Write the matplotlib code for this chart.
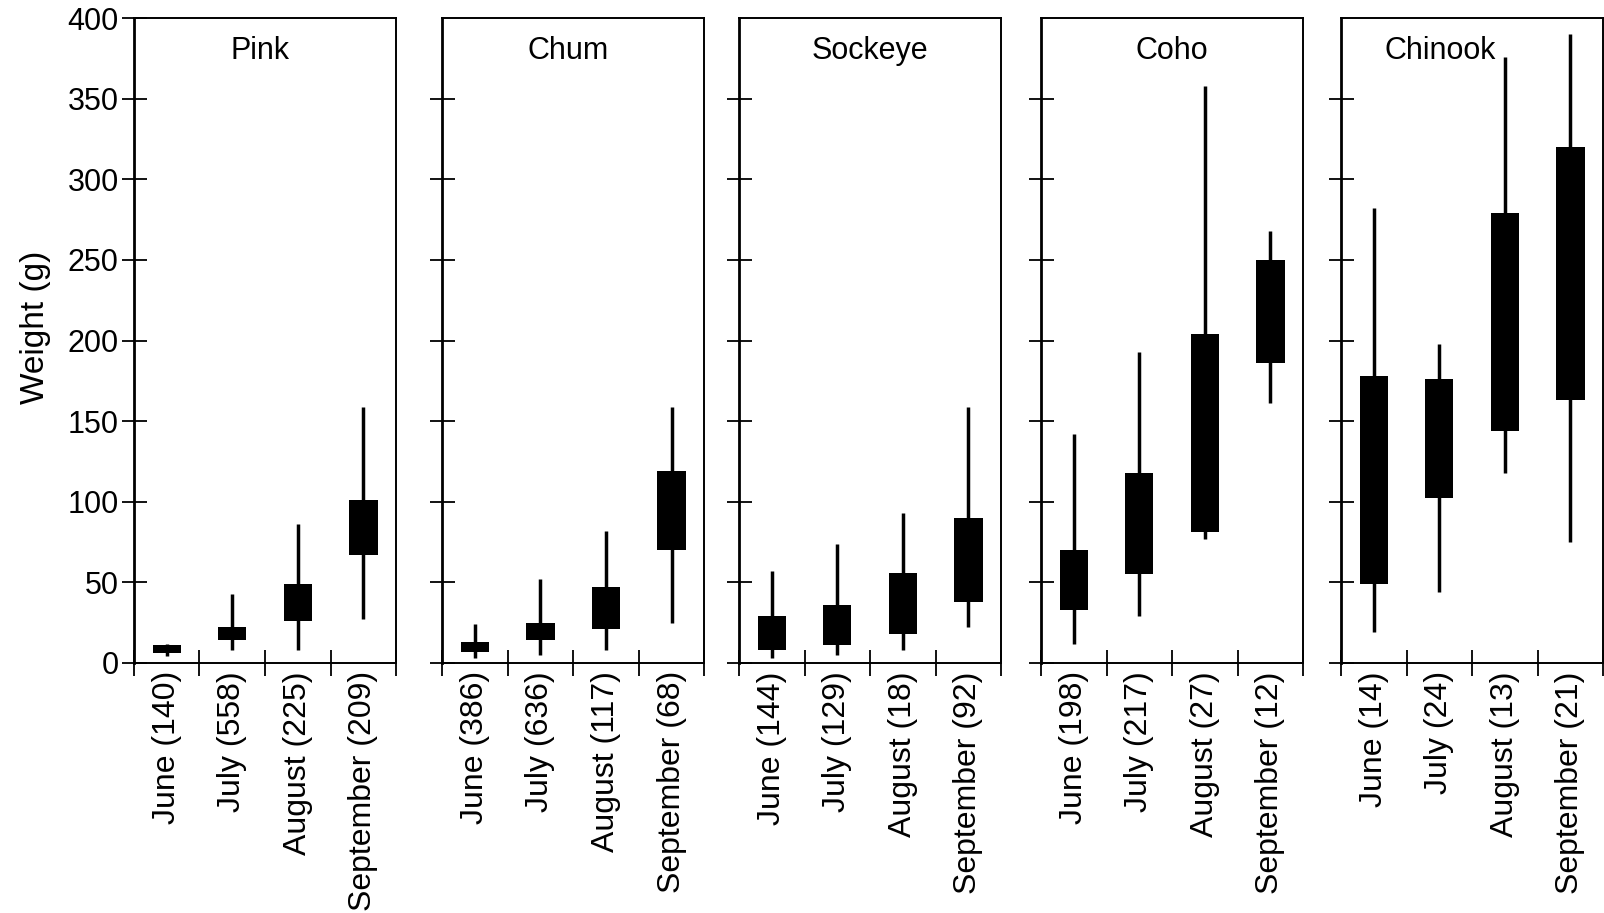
import numpy as np
import matplotlib
matplotlib.use('Agg')
import matplotlib.pyplot as plt

plt.rcParams['font.family'] = ['Liberation Sans', 'DejaVu Sans']

species = ['Pink', 'Chum', 'Sockeye', 'Coho', 'Chinook']
months = ['June', 'July', 'August', 'September']
counts = [
    [140, 558, 225, 209],
    [386, 636, 117, 68],
    [144, 129, 18, 92],
    [198, 217, 27, 12],
    [14, 24, 13, 21],
]
# whisker low / box bottom / box top / whisker high, per species and month
low = [
    [4, 8, 8, 27],
    [3, 5, 8, 25],
    [3, 5, 8, 22],
    [12, 29, 77, 161],
    [19, 44, 118, 75],
]
q1 = [
    [6, 14, 26, 67],
    [7, 14, 21, 70],
    [8, 11, 18, 38],
    [33, 55, 81, 186],
    [49, 102, 144, 163],
]
q3 = [
    [11, 22, 49, 101],
    [13, 25, 47, 119],
    [29, 36, 56, 90],
    [70, 118, 204, 250],
    [178, 176, 279, 320],
]
high = [
    [12, 43, 86, 159],
    [24, 52, 82, 159],
    [57, 74, 93, 159],
    [142, 193, 358, 268],
    [282, 198, 376, 390],
]
title_x = [0.48, 0.48, 0.5, 0.5, 0.38]

fig = plt.figure(figsize=(16.04, 9.13), dpi=100)
lefts = [0.0835, 0.2756, 0.4607, 0.649, 0.836]
width = 0.1635
bottom = 0.274
height = 0.706

x = np.arange(1, 5)
for i, name in enumerate(species):
    ax = fig.add_axes([lefts[i], bottom, width, height])
    lo = np.array(low[i])
    hi = np.array(high[i])
    b1 = np.array(q1[i])
    b3 = np.array(q3[i])
    ax.vlines(x, lo, hi, color='black', linewidth=2.5, zorder=2)
    ax.bar(x, b3 - b1, bottom=b1, width=0.43, color='black', zorder=3)

    ax.set_xlim(0.5, 4.5)
    ax.set_ylim(0, 400)

    ax.set_xticks(np.arange(0.5, 5.0, 1.0))
    ax.set_xticklabels([])
    ax.set_xticks(x, minor=True)
    ax.set_xticklabels([f'{m} ({n})' for m, n in zip(months, counts[i])],
                       minor=True, rotation=90, fontsize=23)
    ax.tick_params(axis='x', which='major', direction='inout', length=19, width=1.3)
    ax.tick_params(axis='x', which='minor', length=0, pad=6)

    if i == 0:
        ax.set_yticks(np.arange(0, 401, 50))
        ax.tick_params(axis='y', direction='inout', length=18, width=1.3,
                       labelsize=22, pad=2)
        ax.set_ylabel('Weight (g)', fontsize=24)
        ax.yaxis.set_label_coords(-0.315, 0.52)
    else:
        ax.set_yticks(np.arange(0, 351, 50))
        ax.set_yticklabels([])
        ax.tick_params(axis='y', direction='inout', length=18, width=1.3)

    for side in ['top', 'right', 'bottom']:
        ax.spines[side].set_linewidth(1.4)
    ax.spines['left'].set_linewidth(2.0)

    ax.text(title_x[i], 0.949, name, transform=ax.transAxes,
            ha='center', va='center', fontsize=22)

fig.savefig('out.png', dpi=100)
